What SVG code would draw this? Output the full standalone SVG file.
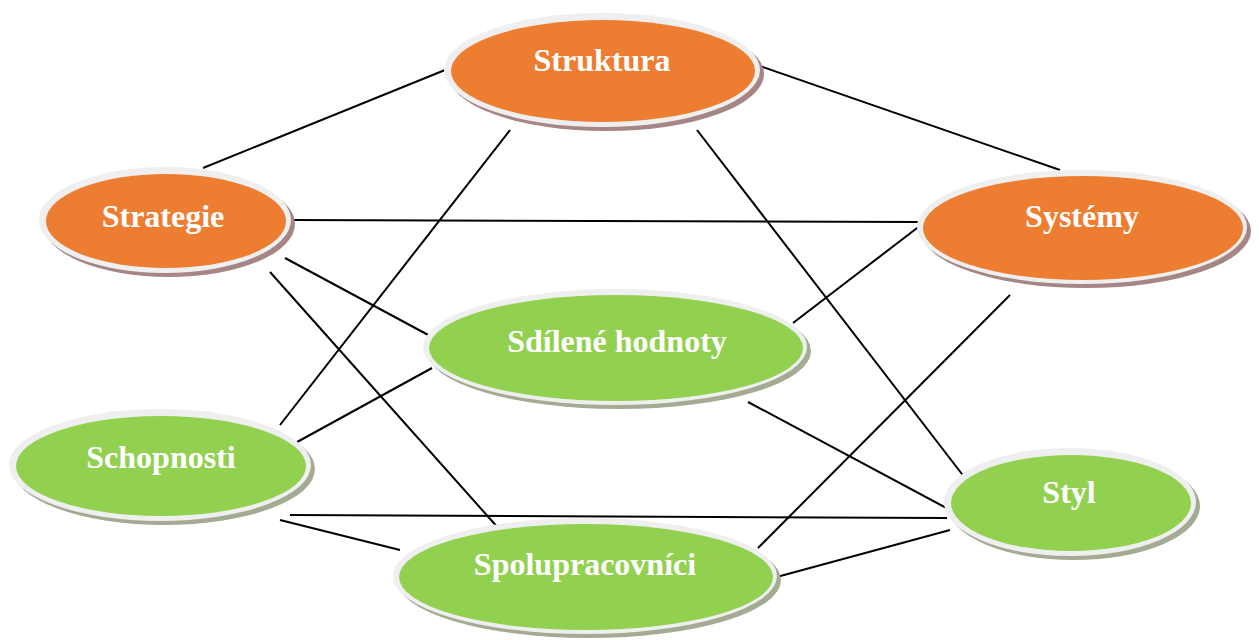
<svg xmlns="http://www.w3.org/2000/svg" width="1259" height="640" viewBox="0 0 1259 640">
<style>
.rim{fill:#efefef}
.sho{fill:#a68585}
.shg{fill:#a3ab93}
.o{fill:#ed7d31}
.g{fill:#92d050}
.t{font-family:"Liberation Serif","Times New Roman",serif;font-weight:bold;font-size:32px;fill:#fff;text-anchor:middle}
.c line{stroke:#000;stroke-width:2}
</style>
<rect width="1259" height="640" fill="#fff"/>
<g class="c">
<line x1="445" y1="70" x2="203" y2="168"/>
<line x1="760" y1="66" x2="1060" y2="170"/>
<line x1="510" y1="130" x2="280" y2="425"/>
<line x1="697" y1="130" x2="965" y2="478"/>
<line x1="292" y1="220" x2="920" y2="222"/>
<line x1="285" y1="258" x2="432" y2="337"/>
<line x1="270" y1="272" x2="500" y2="530"/>
<line x1="921" y1="225" x2="793" y2="323"/>
<line x1="1010" y1="295" x2="758" y2="548"/>
<line x1="748" y1="402" x2="950" y2="510"/>
<line x1="432" y1="368" x2="288" y2="447"/>
<line x1="290" y1="515" x2="947" y2="518"/>
<line x1="280" y1="520" x2="400" y2="550"/>
<line x1="950" y1="530" x2="773" y2="578"/>
</g>
<g id="struktura">
<ellipse class="sho" cx="606" cy="74" rx="158" ry="57"/>
<ellipse class="rim" cx="602" cy="70" rx="158" ry="57"/>
<ellipse class="o" cx="603" cy="71" rx="152" ry="51"/>
<text class="t" x="602" y="71">Struktura</text>
</g>
<g id="strategie">
<ellipse class="sho" cx="169" cy="224" rx="126" ry="53"/>
<ellipse class="rim" cx="165" cy="220" rx="126" ry="53"/>
<ellipse class="o" cx="166" cy="221" rx="120" ry="47"/>
<text class="t" x="163" y="227">Strategie</text>
</g>
<g id="systemy">
<ellipse class="sho" cx="1086" cy="231" rx="165" ry="57"/>
<ellipse class="rim" cx="1082" cy="227" rx="165" ry="57"/>
<ellipse class="o" cx="1083" cy="228" rx="160" ry="52"/>
<text class="t" x="1082" y="227">Systémy</text>
</g>
<g id="sdilene">
<ellipse class="shg" cx="619" cy="351" rx="192" ry="58"/>
<ellipse class="rim" cx="615" cy="347" rx="192" ry="58"/>
<ellipse class="g" cx="616" cy="348" rx="187" ry="53"/>
<text class="t" x="617" y="352">Sdílené hodnoty</text>
</g>
<g id="schopnosti">
<ellipse class="shg" cx="164" cy="469" rx="151" ry="56"/>
<ellipse class="rim" cx="160" cy="465" rx="151" ry="56"/>
<ellipse class="g" cx="161" cy="466" rx="145" ry="50"/>
<text class="t" x="161" y="468">Schopnosti</text>
</g>
<g id="styl">
<ellipse class="shg" cx="1074" cy="506" rx="126" ry="54"/>
<ellipse class="rim" cx="1070" cy="502" rx="126" ry="54"/>
<ellipse class="g" cx="1071" cy="503" rx="120" ry="48"/>
<text class="t" x="1069" y="503">Styl</text>
</g>
<g id="spolupracovnici">
<ellipse class="shg" cx="589" cy="580" rx="192" ry="58"/>
<ellipse class="rim" cx="585" cy="576" rx="192" ry="58"/>
<ellipse class="g" cx="586" cy="577" rx="187" ry="53"/>
<text class="t" x="585" y="575">Spolupracovníci</text>
</g>
</svg>
